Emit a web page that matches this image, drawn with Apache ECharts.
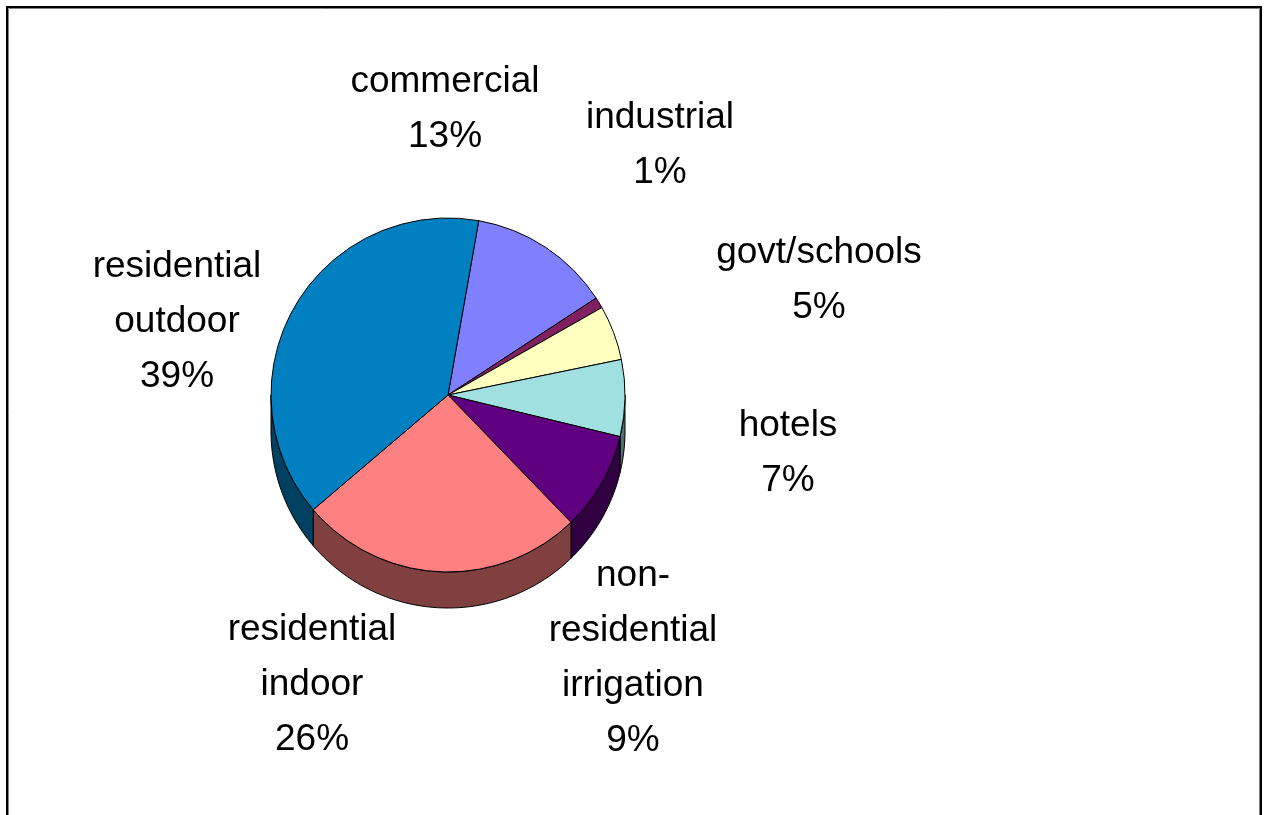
<!DOCTYPE html>
<html>
<head>
<meta charset="utf-8">
<script src="https://cdn.jsdelivr.net/npm/echarts@6/dist/echarts.min.js"></script>
<style>
  html, body { margin: 0; padding: 0; background: #fff; }
  #chart { width: 1264px; height: 815px; }
</style>
</head>
<body>
<div id="chart"></div>
<script>
// Water use by sector (percent of total)
const categories = ['commercial', 'industrial', 'govt/schools', 'hotels',
  'non-residential irrigation', 'residential indoor', 'residential outdoor'];
const values = [13, 1, 5, 7, 9, 26, 39];
const labelLines = [
  ['commercial'], ['industrial'], ['govt/schools'], ['hotels'],
  ['non-', 'residential', 'irrigation'], ['residential', 'indoor'], ['residential', 'outdoor']
];

// Fill colours for the top faces and the darker side walls
const topColors = ['#8080FF', '#802060', '#FFFFC0', '#A0E0E0', '#600080', '#FF8080', '#0080C0'];
const sideColors = ['#404080', '#401030', '#808060', '#507070', '#300040', '#804040', '#004060'];

// Pie geometry
const CX = 448, CY = 395, R = 177, DEPTH = 36, START = 80; // START: echarts startAngle
// Label anchor points (centre of each label block)
const labelPos = [
  [445, 109], [660, 145], [819, 280], [788, 453],
  [633, 658], [312, 685], [177, 322]
];

const total = values.reduce((a, b) => a + b, 0);
const offsetTop = 90 - START; // degrees clockwise from 12 o'clock

function sliceRange(i) {
  let acc = 0;
  for (let k = 0; k < i; k++) acc += values[k];
  const a0 = offsetTop + acc / total * 360;
  const a1 = a0 + values[i] / total * 360;
  return [a0, a1];
}

function pt(deg, dy) {
  const t = deg * Math.PI / 180;
  return [CX + R * Math.sin(t), CY - R * Math.cos(t) + dy];
}

// Side wall of one slice: the part of its rim that faces the viewer
function renderSide(params, api) {
  const i = params.dataIndex;
  const [a0, a1] = sliceRange(i);
  const children = [];
  [[90, 270], [450, 630]].forEach(([lo, hi]) => {
    const s = Math.max(a0, lo), e = Math.min(a1, hi);
    if (e <= s) return;
    const pts = [];
    const n = Math.max(2, Math.ceil(e - s));
    for (let k = 0; k <= n; k++) pts.push(pt(s + (e - s) * k / n, 0));
    for (let k = n; k >= 0; k--) pts.push(pt(s + (e - s) * k / n, DEPTH));
    children.push({
      type: 'polygon',
      shape: { points: pts },
      style: { fill: sideColors[i], stroke: '#000', lineWidth: 1 }
    });
  });
  return { type: 'group', children };
}

const pieData = categories.map((name, i) => ({
  name,
  value: values[i],
  itemStyle: { color: topColors[i] }
}));

const chart = echarts.init(document.getElementById('chart'));
chart.setOption({
  animation: false,
  backgroundColor: '#fff',
  graphic: [
    { type: 'rect', z: 0, shape: { x: 7, y: 7, width: 1254, height: 830 },
      style: { fill: 'none', stroke: '#000', lineWidth: 2 } },
    { type: 'rect', z: 0, shape: { x: 8.5, y: 8.5, width: 1251, height: 830 },
      style: { fill: 'none', stroke: '#808080', lineWidth: 1 } }
  ],
  series: [
    {
      type: 'custom',
      coordinateSystem: 'none',
      z: 1,
      silent: true,
      renderItem: renderSide,
      data: values
    },
    {
      type: 'pie',
      z: 2,
      silent: true,
      center: [CX, CY],
      radius: R,
      startAngle: START,
      clockwise: true,
      avoidLabelOverlap: false,
      itemStyle: { borderColor: '#000', borderWidth: 1 },
      label: {
        show: true,
        formatter: p => labelLines[p.dataIndex].concat(values[p.dataIndex] + '%').join('\n'),
        fontFamily: '"Liberation Sans", Arial, sans-serif',
        fontSize: 37,
        lineHeight: 55,
        color: '#000',
        align: 'center'
      },
      labelLine: { show: false },
      labelLayout: p => ({
        x: labelPos[p.dataIndex][0],
        y: labelPos[p.dataIndex][1],
        align: 'center',
        verticalAlign: 'middle'
      }),
      data: pieData
    }
  ]
});
</script>
</body>
</html>
